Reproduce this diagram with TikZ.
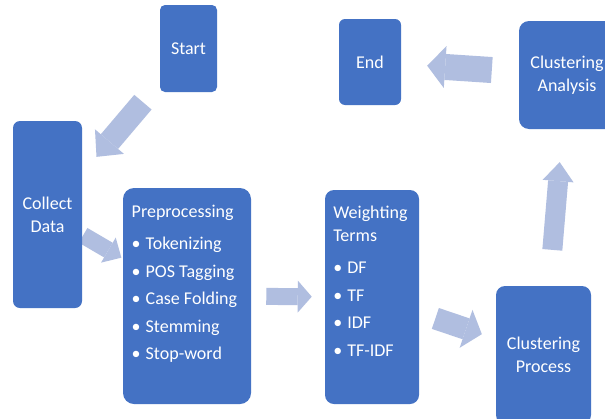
\documentclass[tikz,border=0pt]{standalone}
\usepackage{fontspec}
\setmainfont{Carlito}
\usetikzlibrary{arrows.meta,backgrounds}
\definecolor{FlowBox}{HTML}{4472C4}
\definecolor{FlowArrow}{HTML}{B0BEE0}
\newcommand{\listdot}{\makebox[10.5pt][l]{\textbullet}}

\begin{document}
\begin{tikzpicture}[x=0.75pt,y=-0.75pt,
    stepbox/.style n args={3}{fill=FlowBox, rounded corners=#3pt, minimum width=#1pt, minimum height=#2pt, inner sep=0pt, text=white, align=center, font=\fontsize{13.5pt}{17.25pt}\selectfont},
    steplist/.style={inner sep=0pt, text=white, align=left, font=\fontsize{13.5pt}{20.6pt}\selectfont},
    bigarrow/.style n args={3}{draw=FlowArrow, line width=#1pt, -{Triangle[length=#2pt, width=#3pt, line width=0pt]}}]
        \useasboundingbox (0,0) rectangle (605,418);
        \clip (0,0) rectangle (605,418);
        \foreach \name/\x/\y/\w/\h/\r/\txt in {start/188.5/48.5/42.75/65.25/3.75/Start,
            collect/47.5/214.5/51.75/140.25/5.25/{Collect\\Data},
            prep/187/296/96/162/8.25/{},
            weight/372/297/70.5/160.5/6.75/{},
            cluster/543.5/355/71.25/103.5/6.75/{Clustering\\Process},
            analysis/567/75/72/81/7.5/{Clustering\\Analysis},
            stop/370/62/46.5/64.5/4.5/End} {
          \node[stepbox={\w}{\h}{\r}] (\name) at (\x,\y) {\txt};
        }
        \node[steplist, anchor=north west] (preplist) at ([shift={(8.7,17)}]prep.north west) {Preprocessing\\[3.8pt]\listdot Tokenizing\\\listdot POS Tagging\\\listdot Case Folding\\\listdot Stemming\\\listdot Stop-word};
        \node[steplist, anchor=north west] (weightlist) at ([shift={(8.3,16)}]weight.north west) {Weighting\\[-3.4pt]Terms\\[3.8pt]\listdot DF\\\listdot TF\\\listdot IDF\\\listdot TF-IDF};
        \begin{scope}[on background layer]
          \fill[white] (0,0) rectangle (605,418);
          \foreach \src/\dst/\bw/\hl/\hw/\gapa/\gapb in {start/collect/17/15/28.5/19.5/16.5,
              collect/prep/12.75/11.25/21.75/0.75/1.2,
              prep/weight/12.75/10.5/24/11.25/9.75,
              weight/cluster/16.5/12.5/30/12.75/11,
              cluster/analysis/15/14.25/23.25/27/24.75,
              analysis/stop/19.5/13.5/31.5/20.25/19.5} {
            \draw[bigarrow={\bw}{\hl}{\hw}, shorten <=\gapa pt, shorten >=\gapb pt] (\src) -- (\dst);
          }
        \end{scope}
      \end{tikzpicture}
\end{document}
